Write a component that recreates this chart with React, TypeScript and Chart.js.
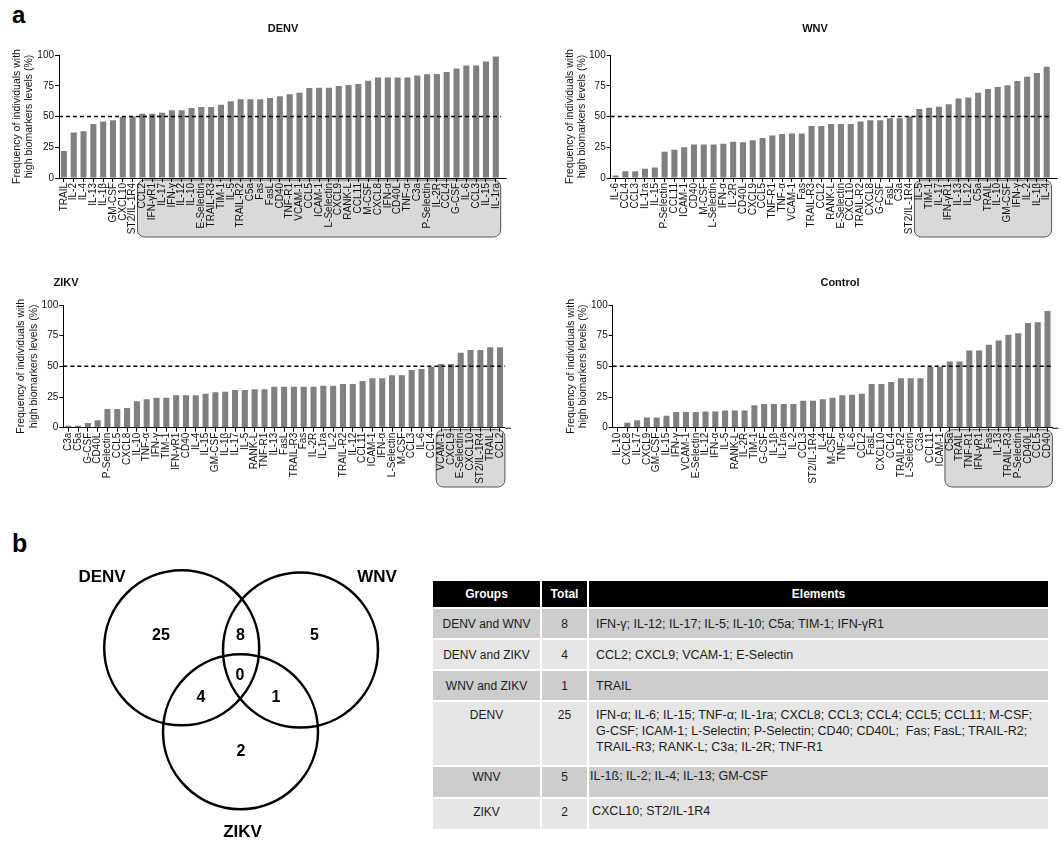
import React, { useEffect, useRef } from 'react';
import { Chart, registerables } from 'chart.js';

Chart.register(...registerables);

const FONT = "'Liberation Sans', Arial, Helvetica, sans-serif";
Chart.defaults.font.family = FONT;
Chart.defaults.color = '#111';

// ---------------- Data ----------------
const THRESHOLD = 50;
const Y_MIN = 0;
const Y_MAX = 100;
const Y_STEP = 25;
const yAxisTitle = ['Frequency of individuals with', 'high biomarkers levels (%)'];

const denvLabels = ['TRAIL', 'IL-2', 'IL-4', 'IL-13', 'IL-1β', 'GM-CSF', 'CXCL10', 'ST2/IL-1R4', 'CCL2', 'IFN-γR1', 'IL-17', 'IFN-γ', 'IL-12', 'IL-10', 'E-Selectin', 'TRAIL-R3', 'TIM-1', 'IL-5', 'TRAIL-R2', 'C5a', 'Fas', 'FasL', 'CD40', 'TNF-R1', 'VCAM-1', 'CCL5', 'ICAM-1', 'L-Selectin', 'CXCL9', 'RANK-L', 'CCL11', 'M-CSF', 'CXCL8', 'IFN-α', 'CD40L', 'TNF-α', 'C3a', 'P-Selectin', 'IL-2R', 'CCL4', 'G-CSF', 'IL-6', 'CCL3', 'IL-15', 'IL-1ra'];
const denvValues = [22, 37, 38, 44, 46, 47, 49.5, 50, 52.3, 52.3, 53, 55, 55, 57, 57.8, 57.8, 59.6, 62.3, 64, 64, 64, 65, 66.4, 68, 69.4, 73.2, 73.4, 73.4, 74.8, 75.6, 76.4, 79.1, 81.8, 81.8, 81.8, 81.8, 83.4, 84.4, 84.6, 86.2, 89.1, 91.5, 91.5, 94.7, 98.8];

const wnvLabels = ['IL-6', 'CCL4', 'CCL3', 'IL-1ra', 'IL-15', 'P-Selectin', 'CCL11', 'ICAM-1', 'CD40', 'M-CSF', 'L-Selectin', 'IFN-α', 'IL-2R', 'CD40L', 'CXCL9', 'CCL5', 'TNF-R1', 'TNF-α', 'VCAM-1', 'Fas', 'TRAIL-R3', 'CCL2', 'RANK-L', 'E-Selectin', 'CXCL10', 'TRAIL-R2', 'CXCL8', 'G-CSF', 'FasL', 'C3a', 'ST2/IL-1R4', 'IL-5', 'TIM-1', 'IL-17', 'IFN-γR1', 'IL-13', 'IL-12', 'C5a', 'TRAIL', 'IL-10', 'GM-CSF', 'IFN-γ', 'IL-2', 'IL-1β', 'IL-4'];
const wnvValues = [2, 5.5, 5.5, 7.5, 8.6, 21.4, 23, 25, 27.3, 27.3, 27.3, 27.9, 29.5, 29, 30.7, 32.6, 34.5, 35.8, 36.2, 36.2, 42.3, 42.3, 44, 44, 44, 46, 47, 47, 48.5, 48.5, 50, 56, 57.2, 58, 60, 64.6, 65.4, 69.4, 72.4, 74, 75.4, 78.9, 82.4, 85.4, 90.5];

const zikvLabels = ['C3a', 'C5a', 'G-CSF', 'CD40L', 'P-Selectin', 'CCL5', 'CXCL8', 'IL-10', 'TNF-α', 'IFN-γ', 'TIM-1', 'IFN-γR1', 'CD40', 'IL-4', 'IL-15', 'GM-CSF', 'IL-1β', 'IL-17', 'IL-5', 'RANK-L', 'TNF-R1', 'IL-13', 'FasL', 'TRAIL-R3', 'Fas', 'IL-2R', 'IL-1ra', 'IL-2', 'TRAIL-R2', 'IL-12', 'CCL11', 'ICAM-1', 'IFN-α', 'L-Selectin', 'M-CSF', 'CCL3', 'IL-6', 'CCL4', 'VCAM-1', 'CXCL9', 'E-Selectin', 'CXCL10', 'ST2/IL-1R4', 'TRAIL', 'CCL2'];
const zikvValues = [1.6, 1.6, 3.8, 6, 15.2, 15.2, 16, 21.5, 23.1, 24.5, 24.5, 26.4, 26.4, 26.4, 27.7, 28.8, 29.3, 30.7, 30.7, 31.3, 31.3, 33.4, 33.4, 33.4, 33.4, 33.4, 34.2, 34.2, 35.6, 35.6, 38, 40.2, 40.2, 42.7, 42.7, 47, 47.8, 49.5, 52, 52, 61, 63.3, 63.3, 65.5, 65.5];

const controlLabels = ['IL-10', 'CXCL8', 'IL-17', 'CXCL9', 'GM-CSF', 'IL-15', 'IFN-γ', 'VCAM-1', 'E-Selectin', 'IL-12', 'IFN-α', 'IL-5', 'RANK-L', 'IL-2R', 'TIM-1', 'G-CSF', 'IL-1β', 'IL-1ra', 'IL-2', 'CCL3', 'ST2/IL-1R4', 'IL-4', 'M-CSF', 'TNF-α', 'IL-6', 'CCL2', 'FasL', 'CXCL10', 'CCL4', 'TRAIL-R2', 'L-Selectin', 'C3a', 'CCL11', 'ICAM-1', 'C5a', 'TRAIL', 'TNF-R1', 'IFN-γR1', 'Fas', 'IL-13', 'TRAIL-R3', 'P-Selectin', 'CD40L', 'CCL5', 'CD40'];
const controlValues = [0, 4.1, 6, 8.4, 8.4, 9.8, 12.8, 12.8, 12.8, 13.3, 13.3, 14.1, 14.1, 14.1, 18.2, 19.3, 19.3, 19.3, 19.3, 22, 22, 23.1, 24.5, 26.4, 26.9, 27.7, 35.6, 35.6, 37.2, 40.2, 40.2, 40.2, 49.5, 49.7, 54, 54, 63, 63, 67.7, 71, 75.8, 77, 85.3, 85.9, 95.1];

// Venn data
const vennSetNames = ['DENV', 'WNV', 'ZIKV'];
// DENV only, DENV∩WNV, WNV only, DENV∩ZIKV, all three, WNV∩ZIKV, ZIKV only
const vennRegionCounts = [25, 8, 5, 4, 0, 1, 2];

// Table data
const tableHeaders = ['Groups', 'Total', 'Elements'];
const tableGroups = ['DENV and WNV', 'DENV and ZIKV', 'WNV and ZIKV', 'DENV', 'WNV', 'ZIKV'];
const tableTotals = [8, 4, 1, 25, 5, 2];
const tableElements = [
  ['IFN-γ; IL-12; IL-17; IL-5; IL-10; C5a; TIM-1; IFN-γR1'],
  ['CCL2; CXCL9; VCAM-1; E-Selectin'],
  ['TRAIL'],
  [
    'IFN-α; IL-6; IL-15; TNF-α; IL-1ra; CXCL8; CCL3; CCL4; CCL5; CCL11; M-CSF;',
    'G-CSF; ICAM-1; L-Selectin; P-Selectin; CD40; CD40L;  Fas; FasL; TRAIL-R2;',
    'TRAIL-R3; RANK-L; C3a; IL-2R; TNF-R1',
  ],
  ['IL-1ß; IL-2; IL-4; IL-13; GM-CSF'],
  ['CXCL10; ST2/IL-1R4'],
];

// ---------------- Layout ----------------
type Box = { left: number; top: number; width: number; height: number };
type Area = { left: number; right: number; top: number; bottom: number };
interface PanelSpec {
  title: string;
  labels: string[];
  values: number[];
  canvas: Box;
  area: Area;
  titleX: number;
  titleY: number;
  yTitlePad: number;
  boxBottom: number;
}

const panels: PanelSpec[] = [
  {
    title: 'DENV', labels: denvLabels, values: denvValues,
    canvas: { left: 0, top: 0, width: 520, height: 250 },
    area: { left: 59, right: 500.7, top: 55, bottom: 178 },
    titleX: 283, titleY: 29, yTitlePad: 10.4, boxBottom: 237,
  },
  {
    title: 'WNV', labels: wnvLabels, values: wnvValues,
    canvas: { left: 550, top: 0, width: 511, height: 250 },
    area: { left: 610.7, right: 1051.6, top: 55, bottom: 178 },
    titleX: 815, titleY: 29, yTitlePad: 13.7, boxBottom: 237,
  },
  {
    title: 'ZIKV', labels: zikvLabels, values: zikvValues,
    canvas: { left: 0, top: 255, width: 520, height: 245 },
    area: { left: 63.3, right: 504.9, top: 305, bottom: 427.7 },
    titleX: 66, titleY: 283, yTitlePad: 15, boxBottom: 487,
  },
  {
    title: 'Control', labels: controlLabels, values: controlValues,
    canvas: { left: 550, top: 255, width: 511, height: 245 },
    area: { left: 612.7, right: 1052.4, top: 305, bottom: 427.7 },
    titleX: 840, titleY: 283, yTitlePad: 14.4, boxBottom: 487,
  },
];

function roundRectPath(ctx: CanvasRenderingContext2D, x: number, y: number, w: number, h: number, r: number) {
  ctx.beginPath();
  ctx.moveTo(x + r, y);
  ctx.lineTo(x + w - r, y);
  ctx.arcTo(x + w, y, x + w, y + r, r);
  ctx.lineTo(x + w, y + h - r);
  ctx.arcTo(x + w, y + h, x + w - r, y + h, r);
  ctx.lineTo(x + r, y + h);
  ctx.arcTo(x, y + h, x, y + h - r, r);
  ctx.lineTo(x, y + r);
  ctx.arcTo(x, y, x + r, y, r);
  ctx.closePath();
}

function BarPanel({ spec }: { spec: PanelSpec }) {
  const ref = useRef<HTMLCanvasElement>(null);
  useEffect(() => {
    const el = ref.current;
    if (!el) return;
    const { canvas, area } = spec;
    const decor = {
      id: 'panelDecor',
      beforeDraw(chart: any) {
        const ctx: CanvasRenderingContext2D = chart.ctx;
        const xs = chart.scales.x;
        const ca = chart.chartArea;
        const n = spec.values.length;
        const i0 = spec.values.findIndex((v) => v > THRESHOLD);
        if (i0 < 0) return;
        const pitch = (ca.right - ca.left) / n;
        const x0 = xs.getPixelForValue(i0) - pitch / 2;
        const x1 = ca.right;
        const y0 = ca.bottom + 2;
        const y1 = spec.boxBottom - canvas.top;
        ctx.save();
        roundRectPath(ctx, x0, y0, x1 - x0, y1 - y0, 7);
        ctx.fillStyle = '#d9d9d9';
        ctx.fill();
        ctx.lineWidth = 1;
        ctx.strokeStyle = '#555';
        ctx.stroke();
        ctx.restore();
      },
      afterDatasetsDraw(chart: any) {
        const ctx: CanvasRenderingContext2D = chart.ctx;
        const ys = chart.scales.y;
        const ca = chart.chartArea;
        const y = ys.getPixelForValue(THRESHOLD);
        ctx.save();
        ctx.setLineDash([4, 3]);
        ctx.lineWidth = 1.5;
        ctx.strokeStyle = '#000';
        ctx.beginPath();
        ctx.moveTo(ca.left, y);
        ctx.lineTo(ca.right, y);
        ctx.stroke();
        ctx.restore();
      },
      afterDraw(chart: any) {
        const ctx: CanvasRenderingContext2D = chart.ctx;
        const ca = chart.chartArea;
        ctx.save();
        ctx.strokeStyle = '#000';
        ctx.lineWidth = 1;
        ctx.beginPath();
        ctx.moveTo(ca.right, ca.bottom + 0.5);
        ctx.lineTo(ca.right + 6, ca.bottom + 0.5);
        ctx.stroke();
        ctx.fillStyle = '#111';
        ctx.font = `bold 11px ${FONT}`;
        ctx.textAlign = 'center';
        ctx.textBaseline = 'middle';
        ctx.fillText(spec.title, spec.titleX - canvas.left, spec.titleY - canvas.top);
        ctx.restore();
      },
    };

    const chart = new Chart(el, {
      type: 'bar',
      data: {
        labels: spec.labels,
        datasets: [
          {
            data: spec.values,
            backgroundColor: '#808080',
            borderWidth: 0,
            barPercentage: 0.62,
            categoryPercentage: 1,
          },
        ],
      },
      options: {
        responsive: false,
        animation: false,
        devicePixelRatio: 1,
        events: [],
        layout: {
          autoPadding: false,
          padding: {
            left: 0,
            top: area.top - canvas.top,
            right: canvas.left + canvas.width - area.right,
            bottom: 0,
          },
        },
        plugins: {
          legend: { display: false },
          tooltip: { enabled: false },
          title: { display: false },
        },
        scales: {
          x: {
            type: 'category',
            offset: true,
            ticks: {
              autoSkip: false,
              minRotation: 90,
              maxRotation: 90,
              padding: 1,
              color: '#111',
              font: { size: 10, family: FONT },
            },
            grid: {
              offset: false,
              drawOnChartArea: false,
              drawTicks: true,
              tickLength: 4,
              color: '#000',
              lineWidth: 1,
            },
            border: { display: true, color: '#000', width: 1 },
            afterFit: (s: any) => {
              s.height = canvas.top + canvas.height - area.bottom;
            },
          },
          y: {
            min: Y_MIN,
            max: Y_MAX,
            ticks: {
              stepSize: Y_STEP,
              padding: 1,
              color: '#111',
              font: { size: 10, family: FONT },
            },
            grid: {
              drawOnChartArea: false,
              drawTicks: true,
              tickLength: 4,
              color: '#000',
              lineWidth: 1,
            },
            border: { display: true, color: '#000', width: 1 },
            title: {
              display: true,
              text: yAxisTitle,
              color: '#111',
              font: { size: 10.5, family: FONT, lineHeight: 1.2 },
              padding: { top: spec.yTitlePad, bottom: 0 },
            },
            afterFit: (s: any) => {
              s.width = area.left - canvas.left;
            },
          },
        },
      } as any,
      plugins: [decor],
    });
    return () => chart.destroy();
  }, [spec]);

  const { canvas } = spec;
  return (
    <canvas
      ref={ref}
      width={canvas.width}
      height={canvas.height}
      style={{ position: 'absolute', left: canvas.left, top: canvas.top, width: canvas.width, height: canvas.height }}
    />
  );
}

// Venn layout (canvas-relative pixels)
const vennCanvas: Box = { left: 0, top: 520, width: 420, height: 323 };
const vennCircleLayout = [
  { x: 181.7, y: 127.8 },
  { x: 300.5, y: 130 },
  { x: 240.5, y: 211.7 },
];
const vennCircleRadius = 77.5;
const vennSetLabelLayout = [
  { x: 102, y: 57.5 },
  { x: 377, y: 57.5 },
  { x: 242.5, y: 312.5 },
];
const vennCountLayout = [
  { x: 161, y: 115.3 },
  { x: 240.5, y: 115.3 },
  { x: 314.5, y: 115.3 },
  { x: 201, y: 178 },
  { x: 240, y: 155.3 },
  { x: 276, y: 178 },
  { x: 241, y: 232 },
];

function VennPanel() {
  const ref = useRef<HTMLCanvasElement>(null);
  useEffect(() => {
    const el = ref.current;
    if (!el) return;
    const labelsPlugin = {
      id: 'vennLabels',
      afterDatasetsDraw(chart: any) {
        const ctx: CanvasRenderingContext2D = chart.ctx;
        const xs = chart.scales.x;
        const ys = chart.scales.y;
        ctx.save();
        ctx.fillStyle = '#000';
        ctx.textAlign = 'center';
        ctx.textBaseline = 'middle';
        ctx.font = `bold 17px ${FONT}`;
        vennSetNames.forEach((name, i) => {
          const p = vennSetLabelLayout[i];
          ctx.fillText(name, xs.getPixelForValue(p.x), ys.getPixelForValue(p.y));
        });
        ctx.font = `bold 16px ${FONT}`;
        vennRegionCounts.forEach((c, i) => {
          const p = vennCountLayout[i];
          ctx.fillText(String(c), xs.getPixelForValue(p.x), ys.getPixelForValue(p.y));
        });
        ctx.restore();
      },
    };
    const chart = new Chart(el, {
      type: 'scatter',
      data: {
        datasets: [
          {
            data: vennCircleLayout.map((c) => ({ x: c.x, y: c.y })),
            pointRadius: vennCircleRadius,
            pointHoverRadius: vennCircleRadius,
            borderColor: '#000',
            borderWidth: 2.5,
            backgroundColor: 'rgba(0,0,0,0)',
            clip: false,
          } as any,
        ],
      },
      options: {
        responsive: false,
        animation: false,
        devicePixelRatio: 1,
        events: [],
        layout: { autoPadding: false, padding: 0 },
        plugins: { legend: { display: false }, tooltip: { enabled: false } },
        scales: {
          x: { type: 'linear', display: false, min: 0, max: vennCanvas.width },
          y: { type: 'linear', display: false, min: 0, max: vennCanvas.height, reverse: true },
        },
      } as any,
      plugins: [labelsPlugin],
    });
    return () => chart.destroy();
  }, []);
  return (
    <canvas
      ref={ref}
      width={vennCanvas.width}
      height={vennCanvas.height}
      style={{ position: 'absolute', left: vennCanvas.left, top: vennCanvas.top, width: vennCanvas.width, height: vennCanvas.height }}
    />
  );
}

// Table layout
const rowHeights = [29, 29, 29, 63, 30, 30];
const rowColors = ['#cdcdcd', '#e6e6e6', '#cdcdcd', '#e6e6e6', '#cdcdcd', '#e6e6e6'];
const rowVAlign: ('middle' | 'top')[] = ['middle', 'middle', 'middle', 'top', 'top', 'top'];
const rowGroupPadTop = [0, 0, 0, 5, 2, 5];
const rowElemPadTop = [0, 0, 0, 5, 1, 4];
const rowElemPadLeft = [7, 7, 7, 7, 1, 3];

function GroupTable() {
  const cellBase: React.CSSProperties = { padding: 0, whiteSpace: 'nowrap', lineHeight: '16px' };
  return (
    <table
      style={{
        position: 'absolute',
        left: 431,
        top: 579,
        width: 619,
        borderCollapse: 'separate',
        borderSpacing: 2,
        tableLayout: 'fixed',
        font: `12px ${FONT}`,
        color: '#1a1a1a',
      }}
    >
      <colgroup>
        <col style={{ width: 107 }} />
        <col style={{ width: 45 }} />
        <col style={{ width: 459 }} />
      </colgroup>
      <tbody>
        <tr>
          {tableHeaders.map((h) => (
            <td
              key={h}
              style={{ ...cellBase, height: 26, background: '#000', color: '#fff', fontWeight: 'bold', textAlign: 'center', verticalAlign: 'middle' }}
            >
              {h}
            </td>
          ))}
        </tr>
        {tableGroups.map((g, i) => (
          <tr key={g}>
            <td style={{ ...cellBase, height: rowHeights[i], background: rowColors[i], textAlign: 'center', verticalAlign: rowVAlign[i] }}>
              <div style={{ paddingTop: rowGroupPadTop[i] }}>{g}</div>
            </td>
            <td style={{ ...cellBase, height: rowHeights[i], background: rowColors[i], textAlign: 'center', verticalAlign: rowVAlign[i] }}>
              <div style={{ paddingTop: rowGroupPadTop[i] }}>{tableTotals[i]}</div>
            </td>
            <td style={{ ...cellBase, height: rowHeights[i], background: rowColors[i], textAlign: 'left', verticalAlign: rowVAlign[i], fontSize: 12.5 }}>
              <div style={{ paddingTop: rowElemPadTop[i], paddingLeft: rowElemPadLeft[i], whiteSpace: 'pre' }}>
                {tableElements[i].map((line, j) => (
                  <div key={j}>{line}</div>
                ))}
              </div>
            </td>
          </tr>
        ))}
      </tbody>
    </table>
  );
}

export default function App() {
  return (
    <div
      style={{
        position: 'absolute',
        left: 0,
        top: 0,
        width: 1061,
        height: 843,
        background: '#fff',
        overflow: 'hidden',
        fontFamily: FONT,
      }}
    >
      <div style={{ position: 'absolute', left: 12, top: 3, font: `bold 24px/24px ${FONT}`, color: '#000' }}>a</div>
      {panels.map((p) => (
        <BarPanel key={p.title} spec={p} />
      ))}
      <div style={{ position: 'absolute', left: 12, top: 530.5, font: `bold 25px/25px ${FONT}`, color: '#000' }}>b</div>
      <VennPanel />
      <GroupTable />
    </div>
  );
}
